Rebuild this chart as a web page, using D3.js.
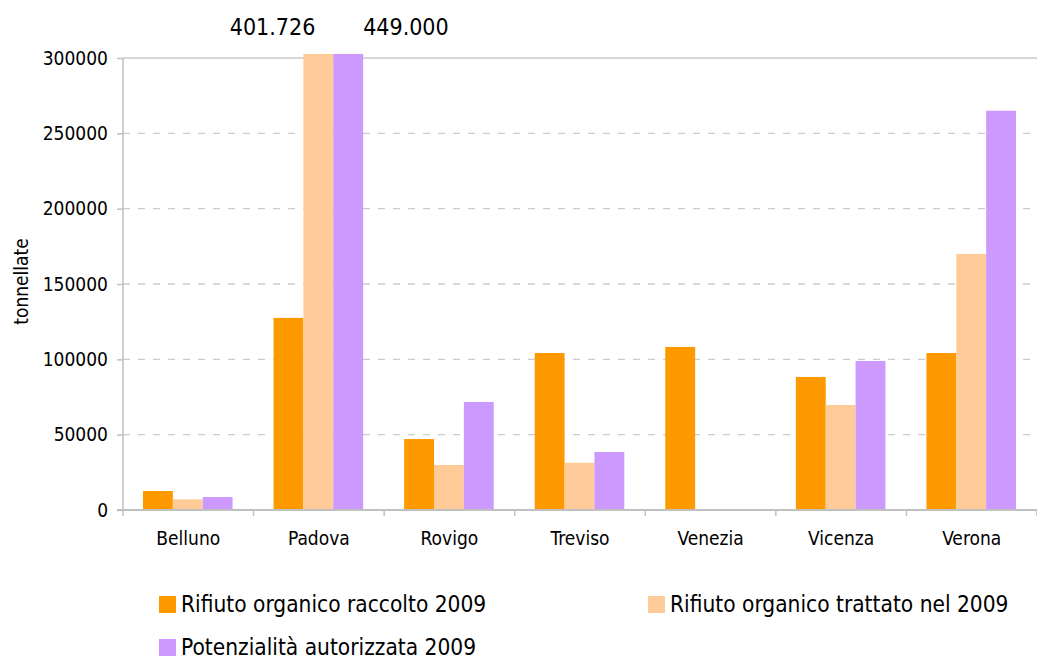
<!DOCTYPE html>
<html>
<head>
<meta charset="utf-8">
<script src="https://cdn.jsdelivr.net/npm/d3@7"></script>
<style>
  html, body { margin: 0; padding: 0; background: #fff; }
  svg { display: block; }
  text { font-family: "DejaVu Sans Condensed", "DejaVu Sans", sans-serif; fill: #000; }
</style>
</head>
<body>
<svg id="chart" width="1037" height="659"></svg>
<script>
const categories = ["Belluno", "Padova", "Rovigo", "Treviso", "Venezia", "Vicenza", "Verona"];
const seriesNames = ["Rifiuto organico raccolto 2009", "Rifiuto organico trattato nel 2009", "Potenzialità autorizzata 2009"];
const raccolto = [12600, 127500, 47100, 104200, 108200, 88300, 104200];
const trattato = [7100, 401726, 29900, 31400, 0, 69700, 170000];
const potenzialita = [8600, 449000, 71700, 38500, 0, 98900, 265000];
const yTicks = [0, 50000, 100000, 150000, 200000, 250000, 300000];
const overflowLabels = [
  { category: "Padova", series: 1, text: "401.726" },
  { category: "Padova", series: 2, text: "449.000" }
];
const colors = ["#FF9900", "#FFCC99", "#CC99FF"];

const svg = d3.select("#chart");
const margin = { left: 123, right: 1037, top: 58, bottom: 510 };

const x0 = d3.scaleBand().domain(categories).range([margin.left, margin.right]).padding(0);
const x1 = d3.scaleBand().domain([0, 1, 2]).range([20, x0.bandwidth() - 21]).padding(0);
const y = d3.scaleLinear().domain([0, 300000]).range([margin.bottom, margin.top]);
const yMaxDrawn = 302700; // bars above the axis are cut just above the top

const series = [raccolto, trattato, potenzialita];

// gridlines
svg.append("g").selectAll("line")
  .data(yTicks.filter(t => t > 0 && t < 300000))
  .join("line")
  .attr("x1", margin.left).attr("x2", margin.right)
  .attr("y1", d => y(d)).attr("y2", d => y(d))
  .attr("stroke", "#cccccc").attr("stroke-width", 1.3)
  .attr("stroke-dasharray", "7,8");

// top border
svg.append("line")
  .attr("x1", margin.left).attr("x2", margin.right)
  .attr("y1", y(300000)).attr("y2", y(300000))
  .attr("stroke", "#c8c8c8").attr("stroke-width", 1.3);

// bars
const groups = svg.append("g").selectAll("g")
  .data(categories)
  .join("g")
  .attr("transform", d => `translate(${x0(d)},0)`);

groups.selectAll("rect")
  .data((d, i) => series.map((s, k) => ({ k, v: s[i] })))
  .join("rect")
  .attr("x", d => x1(d.k))
  .attr("width", x1.bandwidth())
  .attr("y", d => y(Math.min(d.v, yMaxDrawn)))
  .attr("height", d => y(0) - y(Math.min(d.v, yMaxDrawn)))
  .attr("fill", d => colors[d.k]);

// y axis
const yAxis = d3.axisLeft(y).tickValues(yTicks).tickFormat(d3.format("d")).tickSize(6).tickPadding(9);
const gy = svg.append("g").attr("transform", `translate(${margin.left},0)`).call(yAxis);
gy.select(".domain").attr("stroke", "#c0c0c0").attr("stroke-width", 1.5).attr("d", `M0,${margin.top}V${margin.bottom}`);
gy.selectAll(".tick line").attr("stroke", "#c0c0c0").attr("stroke-width", 1.5);
gy.selectAll(".tick text").style("font-size", "19px").style("font-family", '"DejaVu Sans Condensed", "DejaVu Sans", sans-serif').attr("fill", "#000");

// x axis
const gx = svg.append("g").attr("transform", `translate(0,${margin.bottom})`);
gx.append("line").attr("x1", margin.left - 6).attr("x2", margin.right)
  .attr("stroke", "#c0c0c0").attr("stroke-width", 2);
gx.selectAll(".xtick").data(categories.map(c => x0(c)).concat([margin.right]))
  .join("line").attr("class", "xtick")
  .attr("x1", d => d).attr("x2", d => d).attr("y1", 0).attr("y2", 6)
  .attr("stroke", "#c0c0c0").attr("stroke-width", 1.5);
gx.selectAll(".xlabel").data(categories)
  .join("text").attr("class", "xlabel")
  .attr("x", d => x0(d) + x0.bandwidth() / 2)
  .attr("y", 35)
  .attr("text-anchor", "middle")
  .style("font-size", "19px")
  .text(d => d);

// y axis title
svg.append("text")
  .attr("transform", `translate(28,${(235 + 328) / 2}) rotate(-90)`)
  .attr("text-anchor", "middle")
  .style("font-size", "19px")
  .text("tonnellate");

// overflow labels
overflowLabels.forEach(o => {
  const bx = x0(o.category) + x1(o.series);
  const isLeft = o.series === 1;
  svg.append("text")
    .attr("x", isLeft ? bx + x1.bandwidth() / 2 - 3 : bx + x1.bandwidth())
    .attr("y", 35)
    .attr("text-anchor", isLeft ? "end" : "start")
    .style("font-size", "23px")
    .text(o.text);
});

// legend
const legendPos = [
  { x: 159, y: 596 },
  { x: 648, y: 596 },
  { x: 159, y: 639 }
];
const lg = svg.append("g").selectAll("g").data(seriesNames).join("g")
  .attr("transform", (d, i) => `translate(${legendPos[i].x},${legendPos[i].y})`);
lg.append("rect").attr("width", 17).attr("height", 17).attr("fill", (d, i) => colors[i]);
lg.append("text").attr("x", 22).attr("y", 15.5).style("font-size", "22.5px").text(d => d);
</script>
</body>
</html>
